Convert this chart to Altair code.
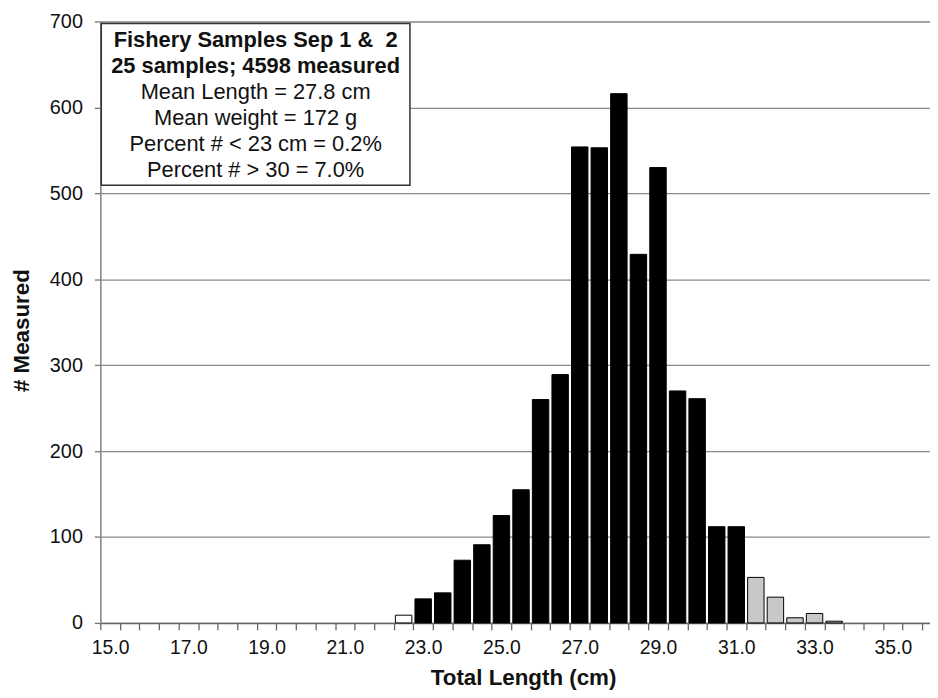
import altair as alt
import pandas as pd

# ---- data ----
lengths = [22.5, 23.0, 23.5, 24.0, 24.5, 25.0, 25.5, 26.0, 26.5, 27.0, 27.5, 28.0,
           28.5, 29.0, 29.5, 30.0, 30.5, 31.0, 31.5, 32.0, 32.5, 33.0, 33.5]
counts = [9, 28, 35, 73, 91, 125, 155, 260, 289, 554, 553, 616,
          429, 530, 270, 261, 112, 112, 53, 30, 6, 11, 2]
categories = [15.0 + 0.5 * i for i in range(43)]          # 15.0 ... 36.0 (category axis)
x_label_values = [15.0, 17.0, 19.0, 21.0, 23.0, 25.0, 27.0, 29.0, 31.0, 33.0, 35.0]
y_ticks = [0, 100, 200, 300, 400, 500, 600, 700]
box_bold = ["Fishery Samples Sep 1 &\u00a0 2", "25 samples; 4598 measured"]
box_lines = ["Mean Length = 27.8 cm", "Mean weight = 172 g",
             "Percent # < 23 cm = 0.2%", "Percent # > 30 = 7.0%"]
x_title = "Total Length (cm)"
y_title = "# Measured"

df = pd.DataFrame({"length": lengths, "count": counts})
boundaries = [c - 0.25 for c in categories]

FONT = "Liberation Sans"
x_scale = alt.Scale(domain=[14.75, 35.95], nice=False, zero=False)
y_scale = alt.Scale(domain=[0, 700], nice=False, zero=True)

bars = alt.Chart(df).transform_calculate(
    x0="datum.length - 0.21",
    x1="datum.length + 0.21",
    grp="datum.length < 23 ? 'under' : (datum.length > 31 ? 'over' : 'main')",
).mark_bar(stroke="black", strokeWidth=1).encode(
    x=alt.X("x0:Q", scale=x_scale,
            axis=alt.Axis(orient="bottom", values=boundaries, labels=False, ticks=True,
                          tickSize=7, tickColor="#666666", tickWidth=1.3,
                          domainColor="#666666", domainWidth=1.6, grid=False, title=None)),
    x2="x1:Q",
    y=alt.Y("count:Q", scale=y_scale,
            axis=alt.Axis(values=y_ticks, grid=True, gridColor="#8a8a8a", gridWidth=1.3,
                          tickSize=6, tickColor="#777777", tickWidth=1.3,
                          domainColor="#8a8a8a", domainWidth=1.6,
                          labelFontSize=20, labelColor="#111111", labelPadding=12,
                          labelFont=FONT, title=y_title, titleFont=FONT,
                          titleFontSize=22.5, titleFontWeight="bold", titleColor="#111111",
                          titleX=-79, titleY=311, titleAngle=270,
                          titleAlign="center", titleBaseline="middle")),
    y2=alt.datum(0),
    fill=alt.Fill("grp:N", scale=alt.Scale(domain=["under", "main", "over"],
                                           range=["white", "black", "#c8c8c8"]),
                  legend=None),
)

labels_layer = alt.Chart(df).mark_point(opacity=0).encode(
    x=alt.X("length:Q", scale=x_scale,
            axis=alt.Axis(orient="bottom", values=x_label_values, format=".1f",
                          ticks=False, tickSize=0, domain=False, grid=False,
                          labelFontSize=19.5, labelFont=FONT,
                          labelColor="#111111", labelPadding=25, labelBaseline="middle",
                          labelFlush=False, labelOverlap=False,
                          title=x_title, titleFont=FONT, titleFontSize=22.5,
                          titleFontWeight="bold", titleColor="#111111",
                          titleX=426, titleY=55, titleBaseline="middle")),
    y=alt.Y("count:Q", scale=y_scale),
)

one = pd.DataFrame({"k": [0]})
box = alt.Chart(one).mark_rect(fill="white", stroke="#333333", strokeWidth=1.5).encode(
    x=alt.value(1), x2=alt.value(312), y=alt.value(2), y2=alt.value(165)
)
text_bold = alt.Chart(one).mark_text(
    font=FONT, fontSize=22, fontWeight="bold", align="center",
    baseline="alphabetic", lineHeight=26.2, color="#111111"
).encode(x=alt.value(156.5), y=alt.value(25.5), text=alt.value(box_bold))
text_reg = alt.Chart(one).mark_text(
    font=FONT, fontSize=22, align="center",
    baseline="alphabetic", lineHeight=26.2, color="#111111"
).encode(x=alt.value(156.5), y=alt.value(78), text=alt.value(box_lines))

chart = alt.layer(bars, labels_layer, box, text_bold, text_reg).resolve_axis(
    x="independent"
).properties(
    width=836, height=606, autosize="none",
    padding={"left": 93, "top": 11, "right": 0, "bottom": 67},
).configure_view(stroke=None).configure(background="white")

chart.save("out.html", embed_options={"renderer": "svg", "actions": False})
